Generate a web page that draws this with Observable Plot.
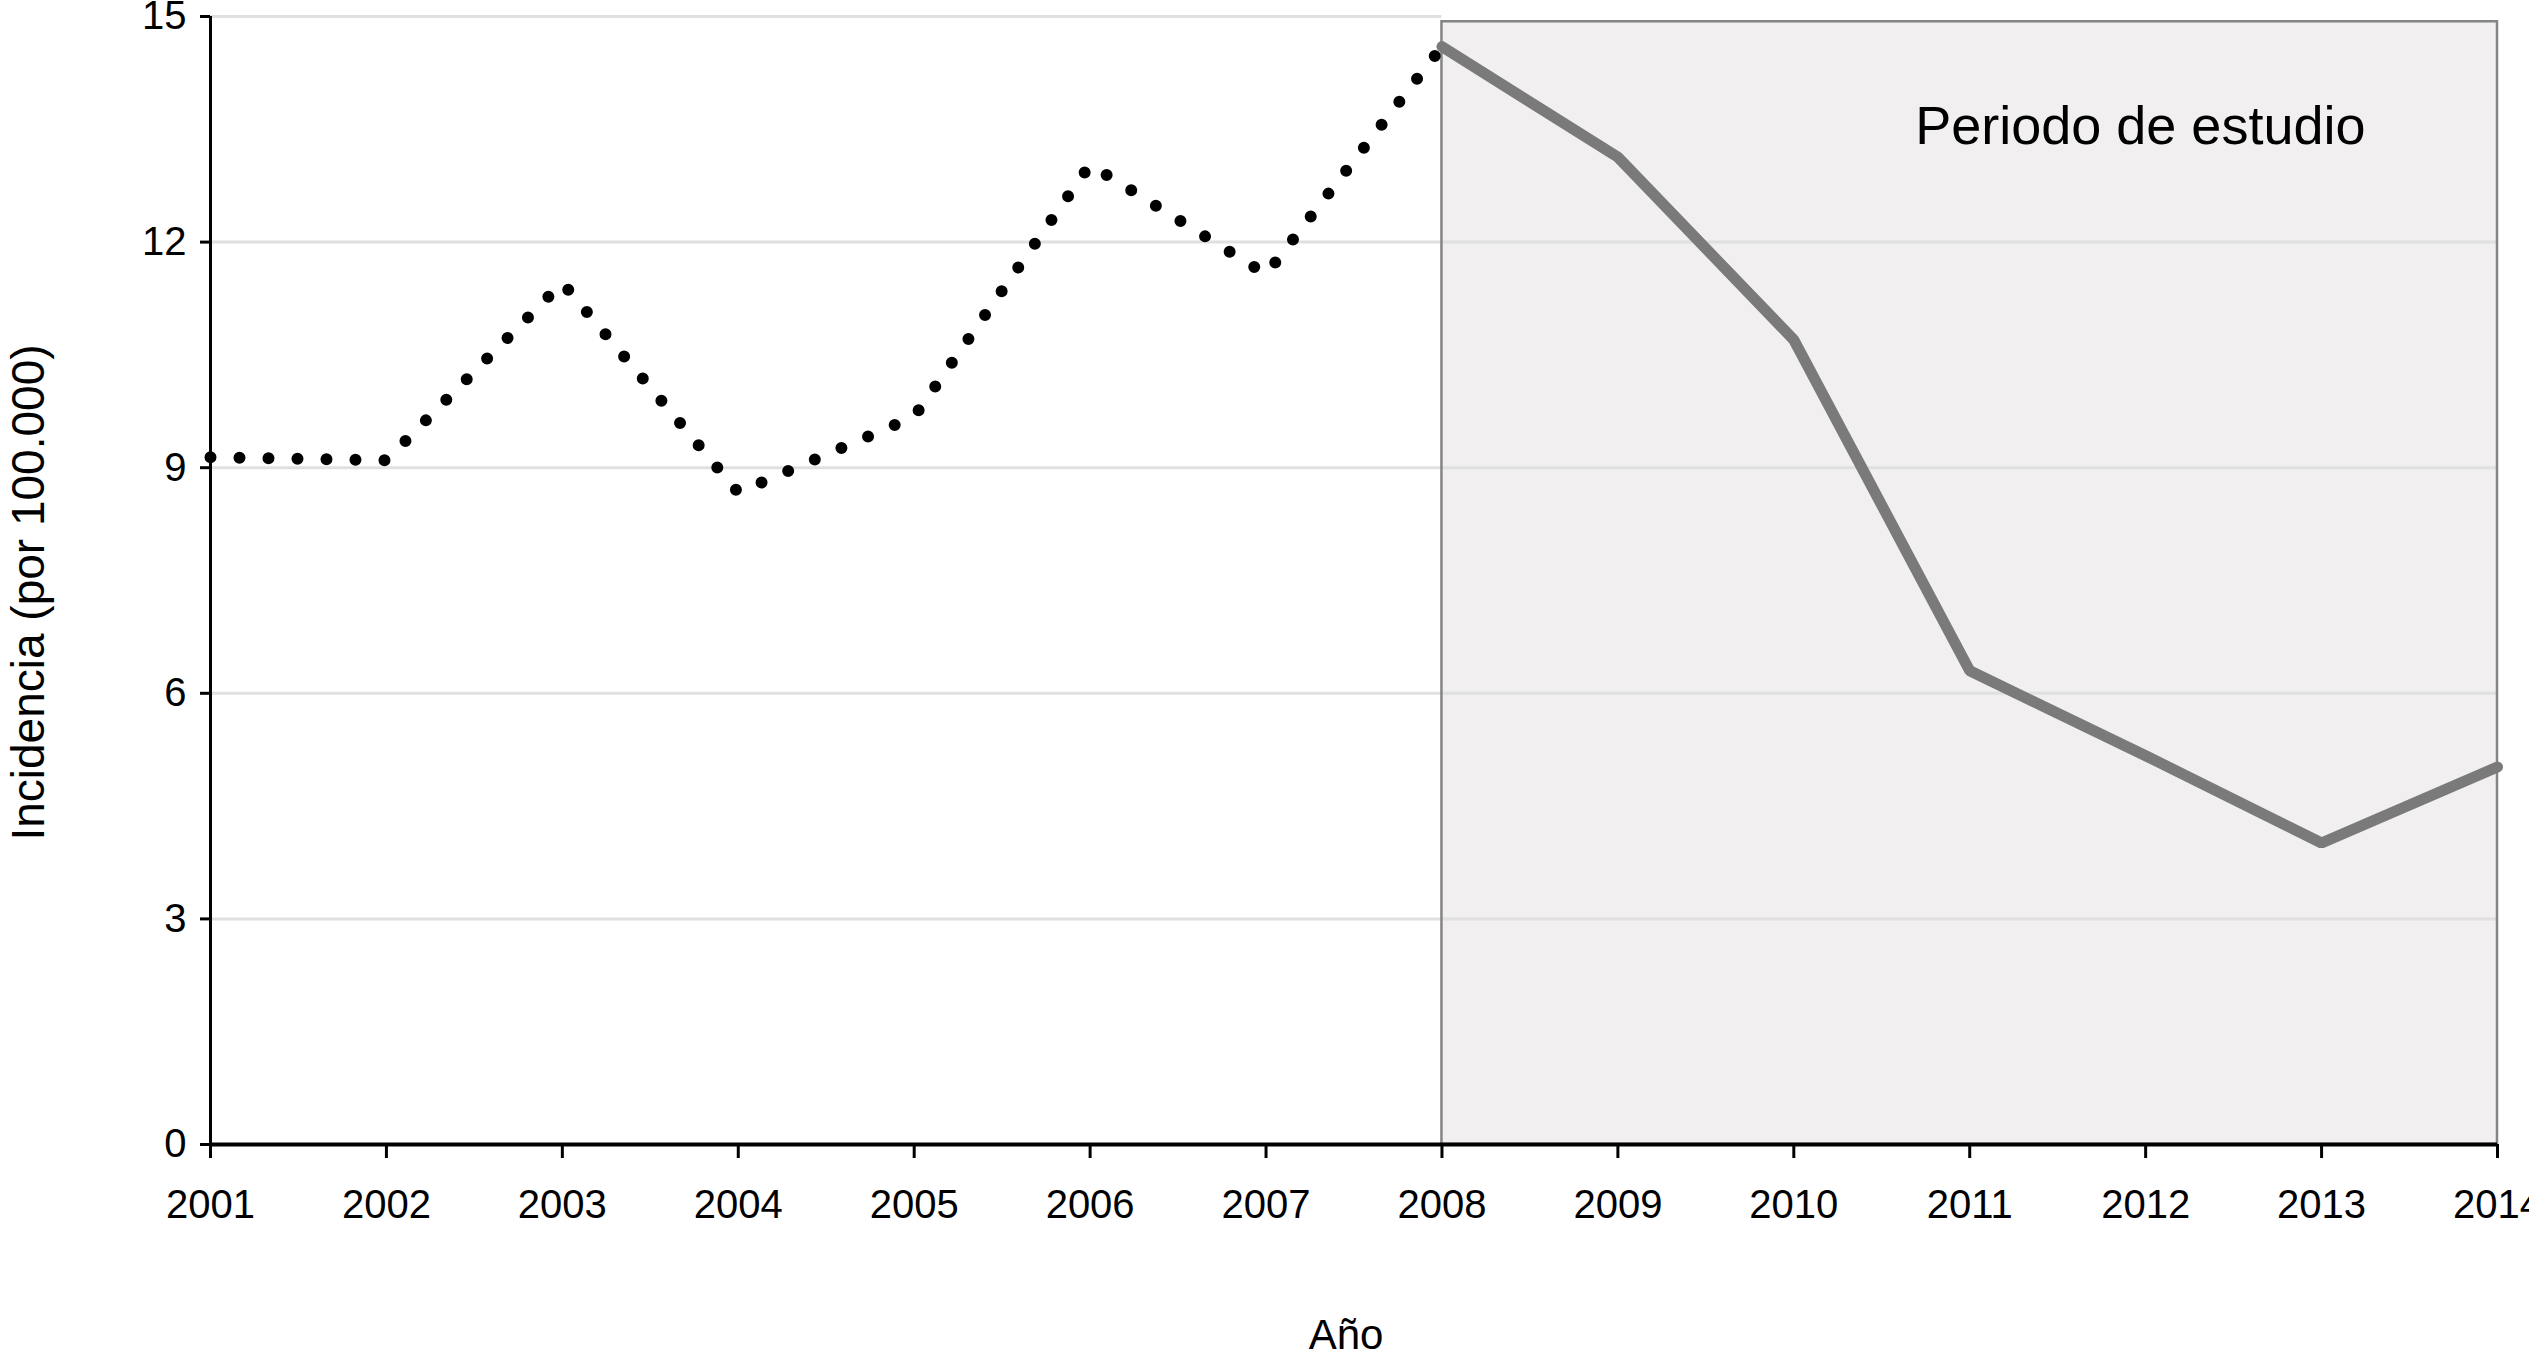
<!DOCTYPE html>
<html>
<head>
<meta charset="utf-8">
<script src="https://cdn.jsdelivr.net/npm/d3@7"></script>
<script src="https://cdn.jsdelivr.net/npm/@observablehq/plot@0.6"></script>
<style>
html, body { margin: 0; padding: 0; background: #fff; overflow: hidden; }
</style>
</head>
<body>
<div id="chart"></div>
<script>
// ---- Data ----
const years = [2001, 2002, 2003, 2004, 2005, 2006, 2007, 2008, 2009, 2010, 2011, 2012, 2013, 2014];
const incidence = [9.14, 9.10, 11.46, 8.67, 9.68, 13.03, 11.57, 14.60, 13.13, 10.70, 6.30, 5.17, 4.01, 5.02];
const yTicks = [0, 3, 6, 9, 12, 15];
const gridValues = [3, 6, 9, 12];
const studyStart = 2008;
const studyEnd = 2014;
const studyTop = 14.93;
const studyLabel = "Periodo de estudio";
const xTitle = "Año";
const yTitle = "Incidencia (por 100.000)";

const rows = years.map((year, i) => ({year, value: incidence[i]}));
const before = rows.filter(d => d.year <= studyStart);
const during = rows.filter(d => d.year >= studyStart);
const studyBox = [{x1: studyStart, x2: studyEnd, y1: 0, y2: studyTop}];
const topGrid = [{y: 15, x1: years[0], x2: studyStart}];

const chart = Plot.plot({
  width: 2529,
  height: 1362,
  marginLeft: 210,
  marginRight: 32,
  marginTop: 16,
  marginBottom: 218,
  style: {fontFamily: "'Liberation Sans', Arial, sans-serif", fontSize: "40px", color: "#000", background: "#fff", overflow: "visible"},
  x: {domain: [years[0], years[years.length - 1]], type: "linear"},
  y: {domain: [0, 15]},
  marks: [
    Plot.rect(studyBox, {x1: "x1", x2: "x2", y1: "y1", y2: "y2", fill: "#f1eff0"}),
    Plot.ruleY(gridValues, {stroke: "#e0e0e0", strokeWidth: 3}),
    Plot.ruleY(topGrid, {y: "y", x1: "x1", x2: "x2", stroke: "#e0e0e0", strokeWidth: 3}),
    Plot.rect(studyBox, {x1: "x1", x2: "x2", y1: "y1", y2: "y2", fill: "none", stroke: "#858585", strokeWidth: 2.5}),
    Plot.line(during, {x: "year", y: "value", stroke: "#7a7a7a", strokeWidth: 11, strokeLinejoin: "miter"}),
    Plot.line(before, {x: "year", y: "value", stroke: "#000", strokeWidth: 12, strokeDasharray: "0 29", strokeLinecap: "round"}),
    Plot.ruleX([years[0]], {stroke: "#000", strokeWidth: 3}),
    Plot.ruleY([0], {stroke: "#000", strokeWidth: 4}),
    Plot.axisY({ticks: yTicks, tickSize: 10, tickPadding: 14, tickFormat: d => String(d), fontSize: 40, strokeWidth: 3, label: null}),
    Plot.axisX({ticks: years, tickSize: 14, tickPadding: 31, tickFormat: d => String(d), fontSize: 40, strokeWidth: 3, label: null}),
    Plot.text([studyLabel], {text: d => d, frameAnchor: "top-right", textAnchor: "end", dx: -132, dy: 89, fontSize: 54, fill: "#000"}),
    Plot.text([xTitle], {text: d => d, frameAnchor: "bottom", textAnchor: "middle", dx: -8, dy: 204, fontSize: 42, fill: "#000"}),
    Plot.text([yTitle], {text: d => d, frameAnchor: "left", textAnchor: "middle", rotate: -90, dx: -181, dy: 12, fontSize: 46, fill: "#000"})
  ]
});
document.getElementById("chart").appendChild(chart);
</script>
</body>
</html>
